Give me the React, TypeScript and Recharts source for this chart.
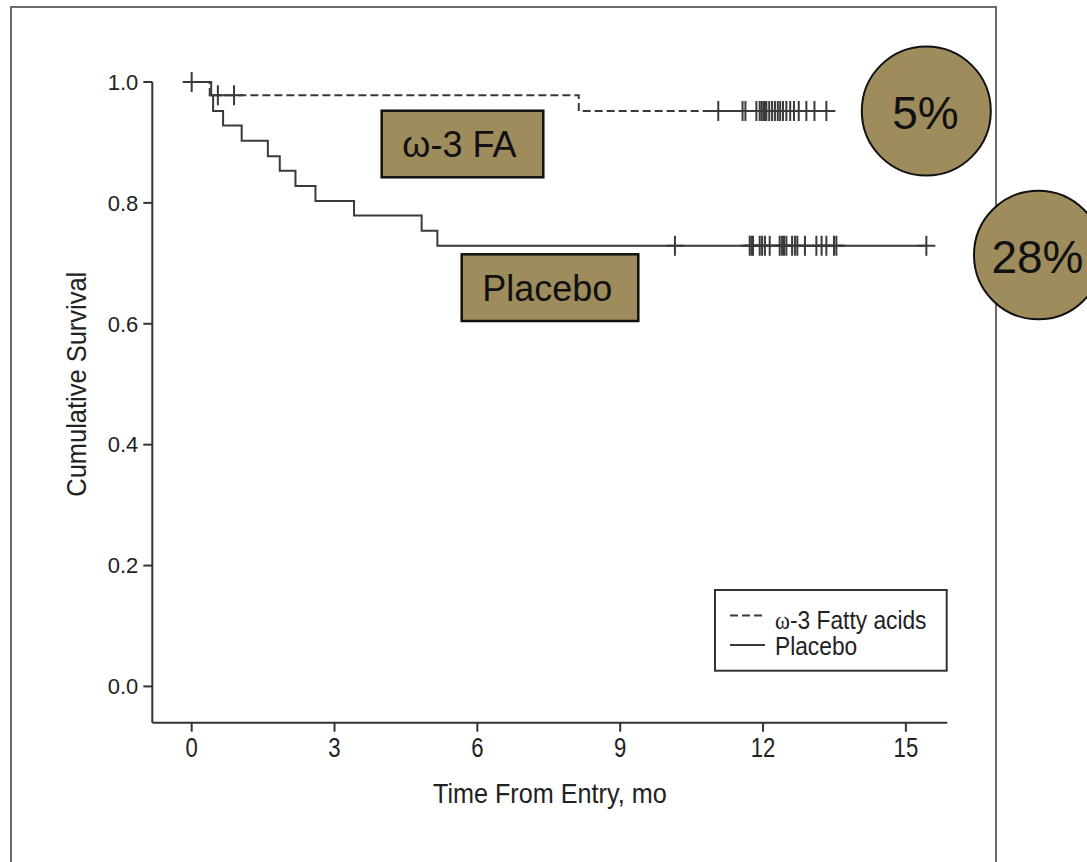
import React from "react";
import { ComposedChart, Line, Scatter, XAxis, YAxis } from "recharts";

// ---- data ----
const xTicks = [0, 3, 6, 9, 12, 15];
const yTicks = [0, 0.2, 0.4, 0.6, 0.8, 1.0];

// Kaplan-Meier steps: omega-3 fatty acids
const omegaTimes = [0, 0.38, 8.13, 13.33];
const omegaSurv = [1.0, 0.978, 0.952, 0.952];
// censored observations, omega-3
const omegaCensorTimes = [
  0, 0.55, 0.89, 11.06, 11.57, 11.63, 11.86, 11.93, 11.97, 12.01, 12.04, 12.07,
  12.13, 12.19, 12.25, 12.31, 12.36, 12.42, 12.49, 12.57, 12.65, 12.75, 12.91,
  13.08, 13.33,
];

// Kaplan-Meier steps: placebo
const placeboTimes = [0, 0.41, 0.45, 0.66, 1.05, 1.6, 1.85, 2.18, 2.6, 3.41, 4.83, 5.16, 15.43];
const placeboSurv = [1.0, 0.978, 0.952, 0.928, 0.903, 0.877, 0.853, 0.828, 0.803, 0.779, 0.754, 0.729, 0.729];
// censored observations, placebo
const placeboCensorTimes = [
  10.15, 11.72, 11.76, 11.79, 11.93, 11.98, 12.04, 12.14, 12.35, 12.4, 12.44,
  12.49, 12.61, 12.67, 12.72, 12.88, 13.12, 13.23, 13.33, 13.49, 13.54, 15.43,
];

const legendLabels = ["Fatty acids", "Placebo"];
const calloutLabels = ["ω-3 FA", "Placebo"];
const mortalityLabels = ["5%", "28%"];

// ---- helpers ----
const toSteps = (times: number[], surv: number[]) =>
  times.map((t, i) => ({ t, s: surv[i] }));
const survAt = (times: number[], surv: number[], t: number) => {
  let s = surv[0];
  for (let i = 0; i < times.length; i++) if (times[i] <= t) s = surv[i];
  return s;
};
const toCensor = (ct: number[], times: number[], surv: number[]) =>
  ct.map((t) => ({ t, s: survAt(times, surv, t) }));

const omegaData = toSteps(omegaTimes, omegaSurv);
const placeboData = toSteps(placeboTimes, placeboSurv);
const omegaCensor = toCensor(omegaCensorTimes, omegaTimes, omegaSurv);
const placeboCensor = toCensor(placeboCensorTimes, placeboTimes, placeboSurv);

const SANS = "'Liberation Sans', Arial, Helvetica, sans-serif";
const SERIF = "'Liberation Serif', 'DejaVu Serif', serif";
const INK = "#222";
const LINE = "#3a3a3a";
const KHAKI = "#9e8c5d";

const NarrowText = (p: {
  x: number;
  y: number;
  size: number;
  squeeze: number;
  anchor?: "start" | "middle" | "end";
  rotate?: boolean;
  children: React.ReactNode;
}) => (
  <text
    transform={`translate(${p.x},${p.y})${p.rotate ? " rotate(-90)" : ""} scale(${p.squeeze},1)`}
    x={0}
    y={0}
    textAnchor={p.anchor || "start"}
    fontFamily={SANS}
    fontSize={p.size}
    fill={INK}
  >
    {p.children}
  </text>
);

const XTick = (props: any) => {
  const { x, y, payload } = props;
  return (
    <NarrowText x={x} y={y + 19.5} size={27} squeeze={0.82} anchor="middle">
      {payload.value}
    </NarrowText>
  );
};

const CensorMark = (props: any) => {
  const { cx, cy } = props;
  if (cx == null || cy == null) return null;
  return (
    <path
      d={`M${cx - 9},${cy}H${cx + 9}M${cx},${cy - 10}V${cy + 10}`}
      stroke={LINE}
      strokeWidth={2}
      fill="none"
    />
  );
};

const XTitle = (props: any) => {
  const vb = props.viewBox || {};
  return (
    <NarrowText x={vb.x + vb.width / 2} y={vb.y + 80} size={28} squeeze={0.9} anchor="middle">
      Time From Entry, mo
    </NarrowText>
  );
};

const YTitle = (props: any) => {
  const vb = props.viewBox || {};
  const cy = vb.y + vb.height * (0.5 / 1.06);
  return (
    <NarrowText x={86} y={cy} size={28} squeeze={0.91} anchor="middle" rotate>
      Cumulative Survival
    </NarrowText>
  );
};

export default function App() {
  return (
    <div
      style={{
        position: "absolute",
        left: 0,
        top: 0,
        width: 1087,
        height: 862,
        background: "#fff",
        overflow: "hidden",
      }}
    >
      <ComposedChart
        width={1087}
        height={862}
        margin={{ top: 82, right: 139.7, bottom: 79.3, left: 92.3 }}
      >
        <XAxis
          type="number"
          dataKey="t"
          domain={[-0.827, 15.87]}
          ticks={xTicks}
          height={60}
          tickSize={9}
          tickMargin={6}
          axisLine={{ stroke: "#333", strokeWidth: 2 }}
          tickLine={{ stroke: "#333", strokeWidth: 2 }}
          tick={<XTick />}
          label={<XTitle />}
        />
        <YAxis
          type="number"
          dataKey="s"
          domain={[-0.06, 1.0]}
          ticks={yTicks}
          width={60}
          tickSize={9}
          tickMargin={5}
          tickFormatter={(v: number) => v.toFixed(1)}
          axisLine={{ stroke: "#333", strokeWidth: 2 }}
          tickLine={{ stroke: "#333", strokeWidth: 2 }}
          tick={{ fontSize: 22, fontFamily: SANS, fill: INK }}
          label={<YTitle />}
        />
        <Line
          data={placeboData}
          dataKey="s"
          type="stepAfter"
          stroke={LINE}
          strokeWidth={2}
          dot={false}
          activeDot={false}
          isAnimationActive={false}
        />
        <Line
          data={omegaData}
          dataKey="s"
          type="stepAfter"
          stroke={LINE}
          strokeWidth={2}
          strokeDasharray="8 4"
          dot={false}
          activeDot={false}
          isAnimationActive={false}
        />
        <Scatter data={placeboCensor} dataKey="s" shape={<CensorMark />} isAnimationActive={false} />
        <Scatter data={omegaCensor} dataKey="s" shape={<CensorMark />} isAnimationActive={false} />
      </ComposedChart>

      <svg
        width={1087}
        height={862}
        style={{ position: "absolute", left: 0, top: 0, pointerEvents: "none" }}
      >
        {/* outer frame */}
        <rect x={11} y={7} width={985} height={880} fill="none" stroke="#6b6b6b" strokeWidth={2} />

        {/* legend */}
        <rect x={715} y={590} width={231.7} height={80.7} fill="#fff" stroke="#333" strokeWidth={2} />
        <line x1={730} y1={615.5} x2={764} y2={615.5} stroke={LINE} strokeWidth={2} strokeDasharray="8 4" />
        <line x1={730} y1={645} x2={765} y2={645} stroke={LINE} strokeWidth={2} />
        <text
          transform="translate(775,628.7) scale(0.91,1)"
          fontFamily={SANS}
          fontSize={25}
          fill={INK}
        >
          <tspan fontFamily={SERIF}>ω</tspan>-3 {legendLabels[0]}
        </text>
        <NarrowText x={775} y={654.7} size={25} squeeze={0.91}>
          {legendLabels[1]}
        </NarrowText>

        {/* callout boxes */}
        <rect x={381.7} y={110.7} width={161.6} height={66.6} fill={KHAKI} stroke="#111" strokeWidth={2.5} />
        <text x={402.3} y={157.3} fontFamily={SANS} fontSize={36} fill="#111">
          {calloutLabels[0]}
        </text>
        <rect x={461.7} y={254.3} width={176.6} height={66.7} fill={KHAKI} stroke="#111" strokeWidth={2.5} />
        <text x={482.3} y={301} fontFamily={SANS} fontSize={36} fill="#111">
          {calloutLabels[1]}
        </text>

        {/* mortality circles */}
        <circle cx={926.3} cy={111} r={64.5} fill={KHAKI} stroke="#111" strokeWidth={2} />
        <text x={925.5} y={129.3} textAnchor="middle" fontFamily={SANS} fontSize={46} fill="#111">
          {mortalityLabels[0]}
        </text>
        <circle cx={1038.3} cy={255} r={64.3} fill={KHAKI} stroke="#111" strokeWidth={2} />
        <text x={1037.5} y={273.3} textAnchor="middle" fontFamily={SANS} fontSize={46} fill="#111">
          {mortalityLabels[1]}
        </text>
      </svg>
    </div>
  );
}
